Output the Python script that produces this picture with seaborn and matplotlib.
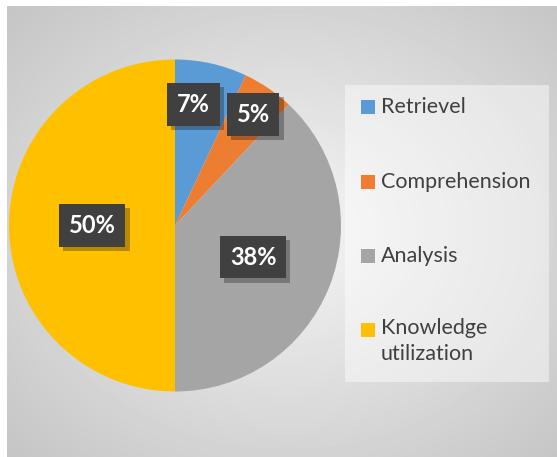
import numpy as np
import matplotlib.pyplot as plt
import seaborn as sns
from matplotlib.patches import Rectangle
from matplotlib import patheffects as pe

# data
categories = ["Retrievel", "Comprehension", "Analysis", "Knowledge\nutilization"]
shares = [7, 5, 38, 50]
pct_labels = ["7%", "5%", "38%", "50%"]

sns.set_theme(style="white")
plt.rcParams['font.family'] = ['Lato', 'DejaVu Sans']
colors = sns.color_palette(["#5B9BD5", "#ED7D31", "#A5A5A5", "#FFC000"])

W, H = 557, 457
fig = plt.figure(figsize=(W / 100, H / 100), dpi=100)
fig.patch.set_facecolor('white')


def fx(px):
    return px / W


def fy(py):
    # py measured from top of image
    return 1 - py / H


# grey radial gradient behind the chart
bg = fig.add_axes([fx(7), 0, fx(W - 7), (H - 6) / H])
ny, nx = 451, 550
yy, xx = np.mgrid[0:ny, 0:nx]
r = np.sqrt(((xx - 280) / 275) ** 2 + ((yy - 225) / 225) ** 2) / np.sqrt(2)
shade = (245 - 48 * r) / 255
bg.imshow(shade, cmap='gray', vmin=0, vmax=1, aspect='auto', interpolation='bilinear')
bg.set_axis_off()

# pie
ax = fig.add_axes([fx(9), fy(391.5), fx(332), 332 / H])
wedges, _ = ax.pie(shares, colors=colors, startangle=90, counterclock=False, radius=1,
                   wedgeprops=dict(linewidth=0, edgecolor='none'))
ax.set_xlim(-1, 1)
ax.set_ylim(-1, 1)
ax.set_axis_off()

# data label positions (in pie radius units)
label_xy = [(0.11, 0.73), (0.47, 0.67), (0.47, -0.19), (-0.50, 0.0)]
for (x, y), lab in zip(label_xy, pct_labels):
    t = ax.text(x, y, lab, ha='center', va='center', color='white',
                fontsize=17, fontweight='bold',
                bbox=dict(boxstyle='square,pad=0.42', fc='#404040', ec='none', lw=0))
    t.get_bbox_patch().set_path_effects([
        pe.SimplePatchShadow(offset=(3, -3), shadow_rgbFace='black', alpha=0.28),
        pe.Normal()])

# legend box, drawn by hand to keep the office-style spacing
fig.patches.append(Rectangle((fx(345), fy(382)), fx(204), (382 - 85) / H,
                             transform=fig.transFigure, fc='white', alpha=0.45,
                             ec='none', zorder=2))
marker_y = [107, 182, 256, 330]
for c, lab, my in zip(colors, categories, marker_y):
    fig.patches.append(Rectangle((fx(361), fy(my + 7)), fx(14), 14 / H,
                                 transform=fig.transFigure, fc=c, ec='none', zorder=3))
    if "\n" in lab:
        fig.text(fx(381), fy(my - 12), lab, ha='left', va='top', fontsize=15.5,
                 color='#404040', linespacing=1.35, zorder=4)
    else:
        fig.text(fx(381), fy(my), lab, ha='left', va='center', fontsize=15.5,
                 color='#404040', zorder=4)

fig.savefig("out.png", dpi=100)
